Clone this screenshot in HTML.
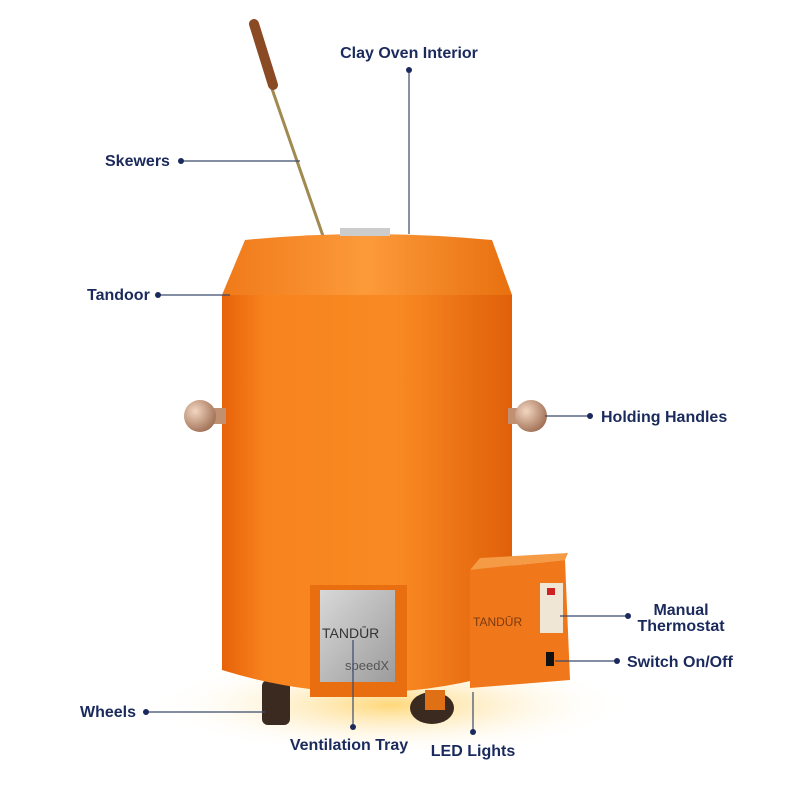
<!DOCTYPE html>
<html><head><style>
html,body{margin:0;padding:0;background:#fff}
svg{display:block}
text{font-family:"Liberation Sans",sans-serif;font-weight:bold;fill:#1b2a5c;font-size:16px}
</style></head><body>
<svg width="800" height="800" viewBox="0 0 800 800">
<defs>
<radialGradient id="glow" cx="0.5" cy="0.5" r="0.5">
<stop offset="0" stop-color="#ffd36a" stop-opacity="0.9"/><stop offset="1" stop-color="#fff" stop-opacity="0"/></radialGradient>
<linearGradient id="body" x1="0" x2="1">
<stop offset="0" stop-color="#e8620a"/><stop offset="0.15" stop-color="#f7831e"/><stop offset="0.6" stop-color="#f98a22"/><stop offset="1" stop-color="#e0600a"/></linearGradient>
<linearGradient id="top" x1="0" x2="1">
<stop offset="0" stop-color="#f07a1a"/><stop offset="0.5" stop-color="#fc9a3a"/><stop offset="1" stop-color="#e8700f"/></linearGradient>
<radialGradient id="ball" cx="0.35" cy="0.35" r="0.7"><stop offset="0" stop-color="#f3d6c0"/><stop offset="1" stop-color="#a07055"/></radialGradient>
<linearGradient id="steel" x1="0" x2="1" y1="0" y2="1"><stop offset="0" stop-color="#d8d8d8"/><stop offset="1" stop-color="#9c9c9c"/></linearGradient>
</defs>
<ellipse cx="390" cy="705" rx="240" ry="50" fill="url(#glow)"/>
<line x1="262" y1="60" x2="323" y2="236" stroke="#a08a50" stroke-width="3"/>
<line x1="254" y1="24" x2="273" y2="85" stroke="#8a4a24" stroke-width="10" stroke-linecap="round"/>
<rect x="262" y="680" width="28" height="45" rx="6" fill="#3a2a20"/>
<ellipse cx="432" cy="708" rx="22" ry="16" fill="#3a2a20"/>
<rect x="425" y="690" width="20" height="20" fill="#e07015"/>
<path d="M245 240 Q367 228 492 240 L512 295 L222 295 Z" fill="url(#top)"/>
<rect x="340" y="228" width="50" height="8" fill="#ccc"/>
<path d="M222 295 L512 295 L512 670 Q367 715 222 670 Z" fill="url(#body)"/>
<rect x="214" y="408" width="12" height="16" fill="#c09070"/>
<circle cx="200" cy="416" r="16" fill="url(#ball)"/>
<rect x="508" y="408" width="12" height="16" fill="#c09070"/>
<circle cx="531" cy="416" r="16" fill="url(#ball)"/>
<rect x="310" y="585" width="97" height="112" fill="#e86e10"/>
<rect x="320" y="590" width="75" height="92" fill="url(#steel)"/>
<text x="322" y="638" style="font-weight:normal;fill:#333;font-size:14px">TANDŪR</text>
<text x="345" y="670" style="font-weight:normal;fill:#555;font-size:13px">speedX</text>
<path d="M470 570 L480 558 L568 553 L565 560 Z" fill="#f59a45"/>
<path d="M470 570 L565 560 L570 680 L470 688 Z" fill="#f0781a"/>
<text x="473" y="626" style="font-weight:normal;fill:#7a3a10;font-size:12px">TANDŪR</text>
<rect x="540" y="583" width="23" height="50" fill="#efe6d6"/>
<rect x="547" y="588" width="8" height="7" fill="#c22"/>
<rect x="546" y="652" width="8" height="14" fill="#111"/>
<g stroke="#3a4a6a" stroke-width="1.2" fill="none">
<line x1="409" y1="70" x2="409" y2="234"/>
<line x1="181" y1="161" x2="300" y2="161"/>
<line x1="158" y1="295" x2="230" y2="295"/>
<line x1="545" y1="416" x2="590" y2="416"/>
<line x1="560" y1="616" x2="628" y2="616"/>
<line x1="555" y1="661" x2="617" y2="661"/>
<line x1="146" y1="712" x2="265" y2="712"/>
<line x1="353" y1="640" x2="353" y2="727"/>
<line x1="473" y1="692" x2="473" y2="732"/>
</g>
<g fill="#1b2a5c">
<circle cx="409" cy="70" r="3"/><circle cx="181" cy="161" r="3"/><circle cx="158" cy="295" r="3"/>
<circle cx="590" cy="416" r="3"/><circle cx="628" cy="616" r="3"/><circle cx="617" cy="661" r="3"/>
<circle cx="146" cy="712" r="3"/><circle cx="353" cy="727" r="3"/><circle cx="473" cy="732" r="3"/>
</g>
<text x="409" y="58" text-anchor="middle">Clay Oven Interior</text>
<text x="105" y="166">Skewers</text>
<text x="87" y="300">Tandoor</text>
<text x="601" y="422">Holding Handles</text>
<text x="681" y="615" text-anchor="middle">Manual</text>
<text x="681" y="631" text-anchor="middle">Thermostat</text>
<text x="627" y="667">Switch On/Off</text>
<text x="80" y="717">Wheels</text>
<text x="349" y="750" text-anchor="middle">Ventilation Tray</text>
<text x="473" y="756" text-anchor="middle">LED Lights</text>
</svg>
</body></html>
